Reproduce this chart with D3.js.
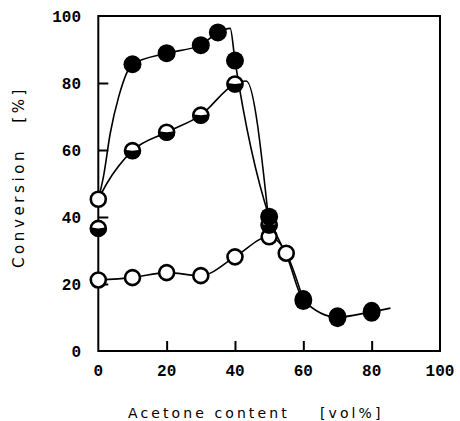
<!DOCTYPE html>
<html>
<head>
<meta charset="utf-8">
<script src="https://cdn.jsdelivr.net/npm/d3@7"></script>
<style>
  body { margin: 0; background: #fff; }
  svg { display: block; }
</style>
</head>
<body>
<svg width="460" height="421"></svg>
<script>
// measured points (acetone vol%, conversion %)
var filledX = [10, 20, 30, 35, 40, 50, 60, 70, 80];
var filledY = [85.6, 88.9, 91.3, 95.1, 86.7, 40.1, 15.2, 10.1, 11.7];
var halfX = [0, 10, 20, 30, 40, 50];
var halfY = [36.6, 59.8, 65.3, 70.4, 79.7, 37.6];
var openX = [0, 0, 10, 20, 30, 40, 50, 55];
var openY = [45.3, 21.2, 21.9, 23.4, 22.5, 28.1, 34.1, 29.2];

// hand drawn guide curves
var filledCurveX = [0, 1.5, 3.5, 6, 10, 20, 30, 35, 38.6, 40, 50, 55.5, 60, 70, 80, 85.5];
var filledCurveY = [45.3, 52, 65, 76, 85.6, 88.9, 91.3, 95.1, 96.3, 86.7, 40.1, 27.5, 15.2, 10.1, 11.7, 12.8];
var halfCurveX = [0, 2.5, 10, 20, 30, 40, 43.3, 50];
var halfCurveY = [45.3, 50, 59.8, 65.3, 70.4, 79.7, 80.6, 37.6];
var openCurveX = [0, 10, 20, 30, 40, 50, 55, 60];
var openCurveY = [21.2, 21.9, 23.4, 22.5, 28.1, 34.1, 29.2, 15.2];

var xTicks = [0, 20, 40, 60, 80, 100];
var yTicks = [0, 20, 40, 60, 80, 100];

var svg = d3.select("svg");
var plotLeft = 98.3, plotRight = 440, plotTop = 16, plotBottom = 351;

var x = d3.scaleLinear().domain([0, 100]).range([plotLeft, plotRight]);
var y = d3.scaleLinear().domain([0, 100]).range([plotBottom, plotTop]);

function pts(xs, ys) {
	return xs.map(function (d, i) { return [d, ys[i]]; });
}

// frame
svg.append("rect")
	.attr("x", plotLeft).attr("y", plotTop)
	.attr("width", plotRight - plotLeft).attr("height", plotBottom - plotTop)
	.attr("fill", "none").attr("stroke", "#000").attr("stroke-width", 2);

// inward ticks
var xAxis = d3.axisBottom(x).tickValues([20, 40, 60, 80]).tickSize(-10).tickFormat("");
svg.append("g").attr("transform", "translate(0," + plotBottom + ")").call(xAxis)
	.call(function (g) { g.select(".domain").remove(); })
	.selectAll("line").attr("stroke-width", 2);

var yAxis = d3.axisLeft(y).tickValues([20, 40, 60, 80]).tickSize(-10).tickFormat("");
svg.append("g").attr("transform", "translate(" + plotLeft + ",0)").call(yAxis)
	.call(function (g) { g.select(".domain").remove(); })
	.selectAll("line").attr("stroke-width", 2);

// tick labels
var numFont = "'Liberation Mono', monospace";
svg.append("g").selectAll("text")
	.data(xTicks)
	.enter().append("text")
	.attr("x", function (d) { return x(d); })
	.attr("y", 376)
	.attr("text-anchor", "middle")
	.attr("font-family", numFont)
	.attr("font-weight", "bold")
	.attr("font-size", 16)
	.text(function (d) { return d; });

svg.append("g").selectAll("text")
	.data(yTicks)
	.enter().append("text")
	.attr("x", 81)
	.attr("y", function (d) { return y(d) + 5.5; })
	.attr("text-anchor", "end")
	.attr("font-family", numFont)
	.attr("font-weight", "bold")
	.attr("font-size", 16)
	.text(function (d) { return d; });

// axis titles
svg.append("text")
	.attr("x", 128).attr("y", 418)
	.attr("font-family", "'DejaVu Sans', sans-serif")
	.attr("font-size", 14)
	.attr("letter-spacing", 3.1)
	.attr("xml:space", "preserve")
	.text("Acetone content    [vol%]");

svg.append("text")
	.attr("transform", "translate(24,268) rotate(-90)")
	.attr("font-family", "'DejaVu Sans', sans-serif")
	.attr("font-size", 15)
	.attr("letter-spacing", 3.6)
	.attr("xml:space", "preserve")
	.text("Conversion   [%]");

// curves
var line = d3.line()
	.x(function (d) { return x(d[0]); })
	.y(function (d) { return y(d[1]); })
	.curve(d3.curveMonotoneX);

[[filledCurveX, filledCurveY], [halfCurveX, halfCurveY], [openCurveX, openCurveY]].forEach(function (c) {
	svg.append("path")
		.attr("d", line(pts(c[0], c[1])))
		.attr("fill", "none")
		.attr("stroke", "#000")
		.attr("stroke-width", 1.6);
});

// markers
var r = 8.5;

svg.append("g").selectAll("circle")
	.data(pts(openX, openY))
	.enter().append("circle")
	.attr("cx", function (d) { return x(d[0]); })
	.attr("cy", function (d) { return y(d[1]); })
	.attr("r", r - 1)
	.attr("fill", "#fff")
	.attr("stroke", "#000")
	.attr("stroke-width", 2.6);

var half = svg.append("g").selectAll("g")
	.data(pts(halfX, halfY))
	.enter().append("g")
	.attr("transform", function (d) { return "translate(" + x(d[0]) + "," + y(d[1]) + ")"; });
half.append("circle")
	.attr("r", r - 1)
	.attr("fill", "#fff")
	.attr("stroke", "#000")
	.attr("stroke-width", 2.6);
half.append("path")
	.attr("d", d3.arc()({ innerRadius: 0, outerRadius: r, startAngle: Math.PI / 2 - 0.12, endAngle: Math.PI * 1.5 + 0.12 }))
	.attr("fill", "#000");

svg.append("g").selectAll("ellipse")
	.data(pts(filledX, filledY))
	.enter().append("ellipse")
	.attr("cx", function (d) { return x(d[0]); })
	.attr("cy", function (d) { return y(d[1]); })
	.attr("rx", r + 0.5)
	.attr("ry", function (d) { return d[0] >= 60 ? r + 1.5 : r + 0.5; })
	.attr("fill", "#000");
</script>
</body>
</html>
